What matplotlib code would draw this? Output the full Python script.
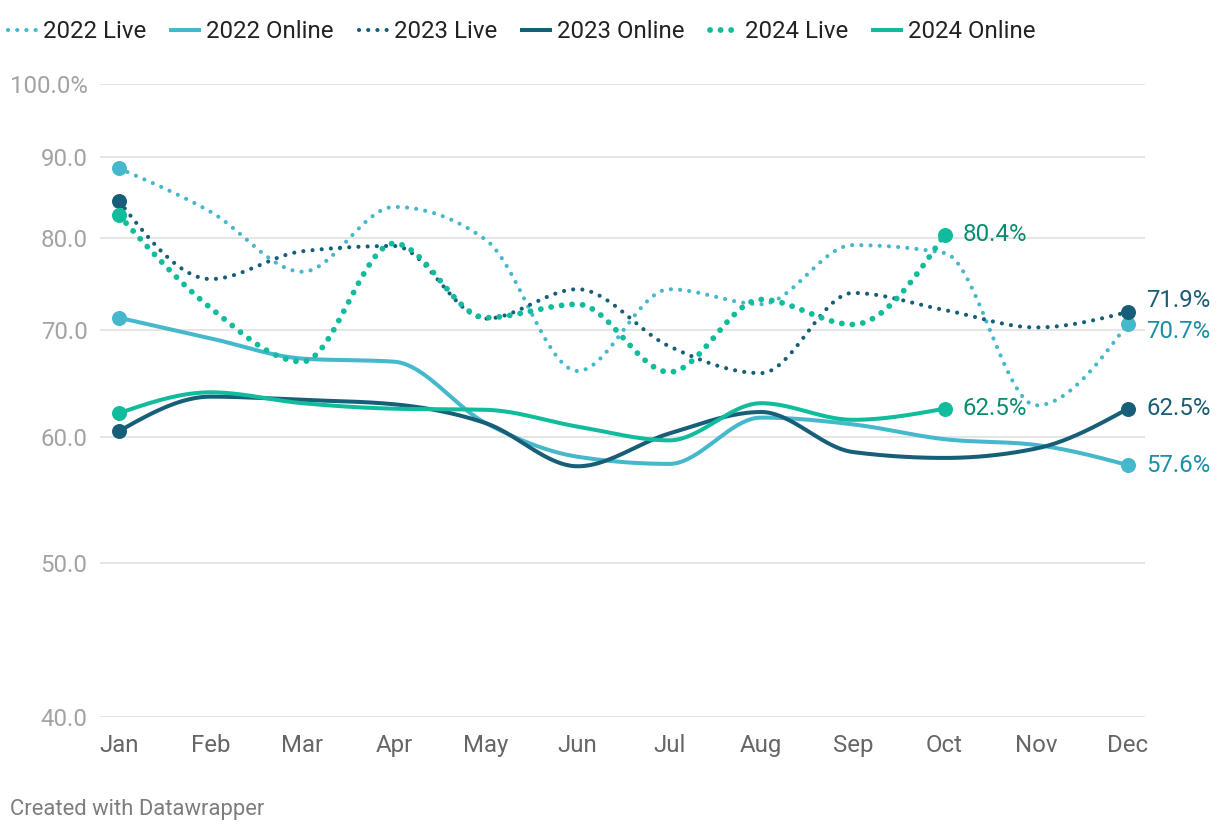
import matplotlib
matplotlib.use('Agg')
import matplotlib.pyplot as plt
import numpy as np
from matplotlib.lines import Line2D

plt.rcParams['font.family'] = ['Roboto', 'DejaVu Sans']

months = ['Jan', 'Feb', 'Mar', 'Apr', 'May', 'Jun', 'Jul', 'Aug', 'Sep', 'Oct', 'Nov', 'Dec']

# values (percent)
live_2022 = [88.5, 83.1, 76.2, 83.7, 79.8, 66.0, 74.3, 72.7, 79.2, 78.3, 62.8, 70.7]
online_2022 = [71.3, 69.2, 67.2, 66.9, 61.2, 58.3, 57.7, 61.7, 61.1, 59.8, 59.3, 57.6]
live_2023 = [84.4, 75.4, 78.5, 79.1, 71.2, 74.3, 68.4, 65.8, 73.9, 72.1, 70.3, 71.9]
online_2023 = [60.5, 63.6, 63.3, 62.9, 61.2, 57.5, 60.3, 62.2, 58.7, 58.2, 59.0, 62.5]
live_2024 = [82.7, 72.3, 66.9, 79.4, 71.3, 72.7, 65.9, 73.2, 70.6, 80.4]
online_2024 = [62.1, 64.0, 63.0, 62.5, 62.4, 60.9, 59.7, 63.0, 61.5, 62.5]

yticks = [40, 50, 60, 70, 80, 90, 100]
ytick_labels = ['40.0', '50.0', '60.0', '70.0', '80.0', '90.0', '100.0%']

c22 = '#46b8cc'
c23 = '#175f79'
c24 = '#10bc9c'
lab22 = '#1c8fa5'
lab23 = '#1a5d76'
lab24 = '#0b8c72'

FS = 17.3


def monotone(y, n=40):
    # d3 curveMonotoneX style interpolation on evenly spaced points
    y = np.asarray(y, dtype=float)
    k = len(y)
    d = np.diff(y)
    t = np.zeros(k)
    for i in range(1, k - 1):
        s0, s1 = d[i - 1], d[i]
        p = (s0 + s1) / 2
        t[i] = (np.sign(s0) + np.sign(s1)) * min(abs(s0), abs(s1), 0.5 * abs(p))
    if k > 2:
        t[0] = (3 * d[0] - t[1]) / 2
        t[-1] = (3 * d[-1] - t[-2]) / 2
    else:
        t[:] = d[0]
    xs, ys = [], []
    for i in range(k - 1):
        u = np.linspace(0, 1, n)
        h00 = 2 * u**3 - 3 * u**2 + 1
        h10 = u**3 - 2 * u**2 + u
        h01 = -2 * u**3 + 3 * u**2
        h11 = u**3 - u**2
        xs.append(i + u)
        ys.append(h00 * y[i] + h10 * t[i] + h01 * y[i + 1] + h11 * t[i + 1])
    return np.concatenate(xs), np.concatenate(ys)


def draw(ax, vals, color, dotted, big=False):
    xs, ly = monotone(np.log10(vals))
    if dotted:
        lw = 4.2 if big else 3.0
        ls = (0, (0.01, 1.8)) if big else (0, (0.01, 2.2))
        ax.plot(xs, 10**ly, color=color, lw=lw, ls=ls, dash_capstyle='round', zorder=3)
    else:
        ax.plot(xs, 10**ly, color=color, lw=2.9, solid_capstyle='round', zorder=3)
    ax.plot([0, len(vals) - 1], [vals[0], vals[-1]], 'o', color=color, ms=10.8, mec='none', zorder=4)


fig = plt.figure(figsize=(12.2, 8.34), dpi=100)
ax = fig.add_axes([100 / 1220, 117 / 834, 1045 / 1220, 633 / 834])
ax.set_yscale('log')
ax.set_ylim(40, 100)
ax.set_xlim(-19 / 91.7, 11 + 17 / 91.7)

draw(ax, live_2022, c22, True)
draw(ax, online_2022, c22, False)
draw(ax, live_2023, c23, True)
draw(ax, online_2023, c23, False)
draw(ax, live_2024, c24, True, big=True)
draw(ax, online_2024, c24, False)

for s in ax.spines.values():
    s.set_visible(False)
ax.set_yticks(yticks)
ax.set_yticklabels(ytick_labels)
ax.yaxis.set_minor_locator(matplotlib.ticker.NullLocator())
ax.set_xticks(range(len(months)))
ax.set_xticklabels(months)
ax.tick_params(axis='y', length=0, pad=9, labelsize=FS, labelcolor='#a3a3a3')
ax.tick_params(axis='x', length=0, pad=12, labelsize=FS, labelcolor='#666666')
ax.grid(axis='y', color='#e3e3e3', lw=1.3, zorder=0)
ax.set_axisbelow(True)

# end labels
end_labels = [
    (9, live_2024[-1], '80.4%', lab24, 0),
    (9, online_2024[-1], '62.5%', lab24, 0),
    (11, live_2023[-1], '71.9%', lab23, 8),
    (11, live_2022[-1], '70.7%', lab22, -6),
    (11, online_2023[-1], '62.5%', lab23, 0),
    (11, online_2022[-1], '57.6%', lab22, 0),
]
for x, v, txt, col, dy in end_labels:
    ax.annotate(txt, (x, v), xytext=(13, dy), textcoords='offset points',
                va='center', ha='left', fontsize=FS, color=col, annotation_clip=False)

handles = [
    Line2D([], [], color=c22, lw=3.0, ls=(0, (0.01, 2.2)), dash_capstyle='round'),
    Line2D([], [], color=c22, lw=2.9),
    Line2D([], [], color=c23, lw=3.0, ls=(0, (0.01, 2.2)), dash_capstyle='round'),
    Line2D([], [], color=c23, lw=2.9),
    Line2D([], [], color=c24, lw=4.2, ls=(0, (0.01, 1.8)), dash_capstyle='round'),
    Line2D([], [], color=c24, lw=2.9),
]
names = ['2022 Live', '2022 Online', '2023 Live', '2023 Online', '2024 Live', '2024 Online']
fig.legend(handles, names, loc='center left', bbox_to_anchor=(8 / 1220, 1 - 32 / 834), ncol=6,
           frameon=False, fontsize=FS, handlelength=1.15, handletextpad=0.3,
           columnspacing=1.05, borderpad=0, borderaxespad=0, labelcolor='#222222')

fig.text(10 / 1220, 1 - 809 / 834, 'Created with Datawrapper', fontsize=15.8,
         color='#7d7d7d', va='center', ha='left')

fig.savefig('out.png', dpi=100)
